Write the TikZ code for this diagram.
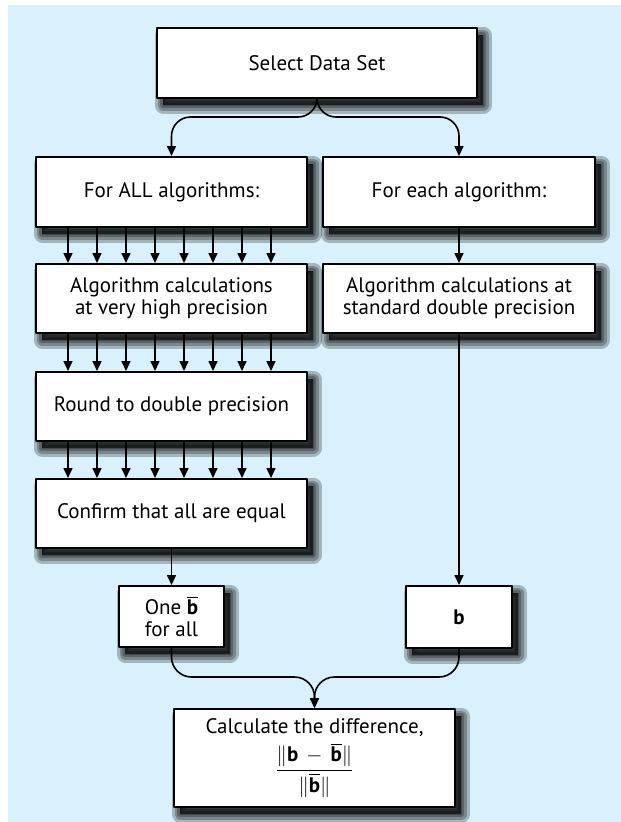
\documentclass[tikz,border=0pt]{standalone}
\usepackage{fontspec}
\setmainfont{PT Sans}
\usepackage{amsmath}
\usetikzlibrary{arrows.meta,calc}
\definecolor{bgblue}{RGB}{217,241,252}
\tikzset{
  shadow layer/.style={preaction={fill=black, draw=black, opacity=0.25, line width=#1, line join=round,
    transform canvas={shift={(6pt,-7pt)}}}},
  box/.style={draw=black, line width=2pt, fill=white, align=center, inner sep=0pt,
    shadow layer=17pt, shadow layer=11pt, shadow layer=6pt, shadow layer=1pt},
  flow/.style={line width=1.6pt, -{Triangle[length=10pt,width=9pt]}}
}
\newcommand{\bb}{\overline{\textbf{b}}}

\begin{document}
\begin{tikzpicture}[line cap=round,line join=round,x=1pt,y=-1pt,font=\fontsize{21pt}{22pt}\selectfont]
    \useasboundingbox (0,0) rectangle (621,822);
    \fill[bgblue] (8,5) rectangle (621,822);

    % Boxes
    \draw(317,63) node[box, minimum width=320pt, minimum height=70pt] (sel) {Select Data Set};
    \draw(171.5,192) node[box, minimum width=271pt, minimum height=70pt] (forall) {For ALL algorithms:};
    \draw(459,192) node[box, minimum width=272pt, minimum height=70pt] (foreach) {For each algorithm:};
    \draw(171.5,298.5) node[box, minimum width=271pt, minimum height=69pt] (high) {Algorithm calculations\\at very high precision};
    \draw(459,298.5) node[box, minimum width=272pt, minimum height=69pt] (std) {Algorithm calculations at\\standard double precision};
    \draw(171.5,406.5) node[box, minimum width=271pt, minimum height=69pt] (round) {Round to double precision};
    \draw(171.5,513.5) node[box, minimum width=271pt, minimum height=69pt] (confirm) {Confirm that all are equal};
    \draw(171.5,616.5) node[box, minimum width=105pt, minimum height=61pt] (onebar) {One $\bb$\\for all};
    \draw(459,617) node[box, minimum width=106pt, minimum height=62pt] (b) {\textbf{b}};
    \draw(314.5,758) node[box, minimum width=281pt, minimum height=98pt] (diff)
        {Calculate the difference,\\[5pt]$\dfrac{\|\textbf{b}\,-\,\bb\|}{\|\bb\|}$};

    % Split and merge
    \coordinate (split) at (317,117);
    \coordinate (merge) at (314.5,677);
    \foreach \target in {forall, foreach} {
        \draw[flow, rounded corners=19pt] (sel.south) -- (split) -- (split -| \target.north) -- (\target.north);
    }
    \foreach \source in {onebar, b} {
        \draw[flow, rounded corners=20pt] (\source.south) -- (\source.south |- merge) -- (merge) -- (diff.north);
    }

    % Edges
    \foreach \source/\target in {foreach/std, std/b, confirm/onebar} {
        \draw[flow] (\source) -- (\target);
    }
    \foreach \i in {0,...,7} {
        \foreach \source/\target in {forall/high, high/round, round/confirm} {
            \draw[flow] ($(\source.south west)+(33+29*\i,0)$) -- ($(\target.north west)+(33+29*\i,0)$);
        }
    }
\end{tikzpicture}
\end{document}
